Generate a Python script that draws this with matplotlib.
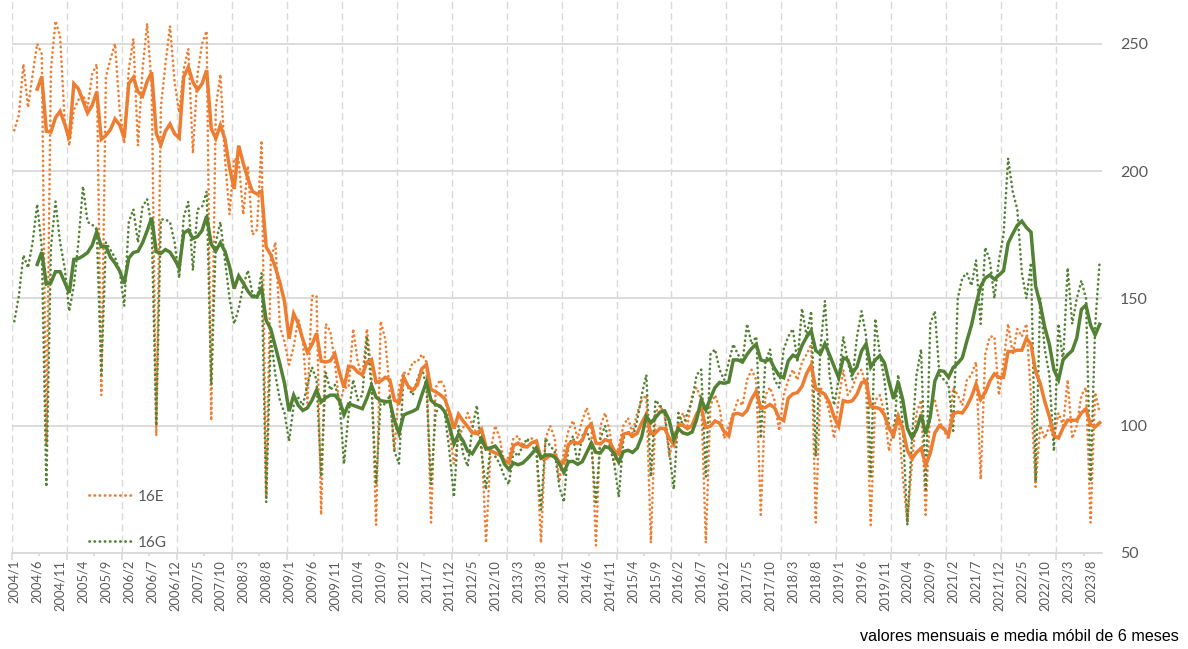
import numpy as np
import pandas as pd
import matplotlib
matplotlib.use("Agg")
import matplotlib.pyplot as plt
from matplotlib.lines import Line2D
from matplotlib.ticker import FixedLocator

# monthly values, 2004/1 .. 2023/10
start_year = 2004
e_16 = [
    216, 222, 242, 225, 238, 250, 246, 93, 240, 259, 253, 220,   # 2004
    210, 224, 228, 230, 225, 238, 242, 112, 237, 244, 250, 224,  # 2005
    211, 240, 252, 210, 240, 258, 233, 96, 225, 242, 257, 235,   # 2006
    223, 240, 248, 207, 238, 250, 255, 102, 225, 238, 205, 183,  # 2007
    205, 204, 183, 202, 175, 177, 212, 72, 165, 172, 139, 133,   # 2008
    124, 131, 142, 134, 109, 151, 151, 65, 140, 137, 125, 108,   # 2009
    115, 115, 138, 125, 119, 138, 121, 61, 141, 134, 113, 90,    # 2010
    115, 121, 120, 125, 125, 128, 125, 62, 115, 118, 115, 98,    # 2011
    85, 96, 99, 105, 100, 97, 95, 54, 90, 100, 95, 85,           # 2012
    88, 95, 96, 92, 94, 95, 92, 54, 95, 100, 95, 78,             # 2013
    90, 98, 102, 95, 102, 107, 100, 53, 100, 105, 98, 85,        # 2014
    92, 100, 103, 97, 105, 110, 112, 54, 105, 108, 104, 88,      # 2015
    96, 100, 105, 100, 112, 115, 110, 54, 108, 112, 107, 95,     # 2016
    100, 105, 110, 108, 118, 122, 118, 65, 112, 115, 110, 98,    # 2017
    112, 118, 122, 118, 125, 128, 132, 62, 115, 112, 105, 95,    # 2018
    110, 122, 112, 115, 120, 122, 115, 61, 110, 112, 105, 90,    # 2019
    100, 105, 80, 62, 85, 105, 110, 65, 108, 110, 102, 98,       # 2020
    95, 115, 112, 108, 118, 120, 125, 79, 128, 135, 135, 112,    # 2021
    125, 140, 128, 138, 135, 140, 111, 76, 100, 95, 100, 95,     # 2022
    105, 100, 118, 95, 100, 112, 115, 62, 113, 105,              # 2023
]
g_16 = [
    141, 151, 167, 162, 172, 187, 170, 76, 170, 188, 172, 162,   # 2004
    145, 155, 172, 194, 180, 179, 177, 120, 172, 169, 166, 161,  # 2005
    147, 180, 185, 172, 186, 189, 178, 100, 181, 181, 180, 172,  # 2006
    158, 182, 188, 161, 185, 186, 192, 116, 172, 180, 165, 150,  # 2007
    140, 146, 155, 161, 152, 150, 160, 70, 135, 120, 110, 105,   # 2008
    94, 108, 111, 108, 116, 123, 118, 80, 121, 114, 116, 110,    # 2009
    85, 105, 118, 110, 112, 135, 115, 77, 110, 108, 112, 90,     # 2010
    85, 120, 115, 112, 118, 123, 115, 77, 105, 108, 105, 90,     # 2011
    72, 100, 89, 84, 99, 108, 90, 75, 92, 88, 85, 80,            # 2012
    77, 90, 88, 92, 95, 92, 90, 67, 95, 92, 90, 76,              # 2013
    70, 92, 96, 85, 96, 98, 92, 70, 95, 100, 92, 85,             # 2014
    72, 95, 98, 95, 102, 112, 120, 80, 110, 108, 105, 90,        # 2015
    75, 105, 100, 105, 110, 120, 122, 80, 128, 130, 122, 118,    # 2016
    125, 132, 128, 125, 140, 132, 135, 95, 125, 130, 118, 115,   # 2017
    130, 135, 138, 125, 146, 135, 145, 88, 130, 149, 120, 108,   # 2018
    118, 135, 125, 118, 135, 145, 135, 80, 142, 128, 118, 100,   # 2019
    95, 120, 100, 61, 95, 120, 130, 75, 140, 145, 120, 118,      # 2020
    116, 98, 150, 158, 160, 155, 165, 140, 170, 165, 150, 165,   # 2021
    175, 205, 192, 185, 160, 150, 164, 78, 150, 130, 120, 90,    # 2022
    140, 125, 162, 140, 150, 157, 150, 78, 139, 165,             # 2023
]
y_ticks = [50, 100, 150, 200, 250]
caption = "valores mensuais e media móbil de 6 meses"

n = len(e_16)
x = np.arange(n)
month_labels = [f"{start_year + i // 12}/{i % 12 + 1}" for i in range(n)]

df = pd.DataFrame({"16E": e_16, "16G": g_16})
ma = df.rolling(6).mean()

ORANGE = "#ED7D31"
GREEN = "#548235"
GRID = "#D9D9D9"
TXT = "#595959"

fig = plt.figure(figsize=(11.88, 6.49), dpi=100)
ax = fig.add_axes([12 / 1188, 96 / 649, 1090 / 1188, 553 / 649])

dot = (0, (0.1, 1.75))
ax.plot(x, df["16E"], color=ORANGE, lw=1.9, ls=dot, dash_capstyle="round", label="16E")
ax.plot(x, df["16G"], color=GREEN, lw=1.9, ls=dot, dash_capstyle="round", label="16G")
ax.plot(x, ma["16E"], color=ORANGE, lw=2.5, solid_joinstyle="miter")
ax.plot(x, ma["16G"], color=GREEN, lw=2.5, solid_joinstyle="miter")

ax.set_xlim(-0.5, n - 0.5)
ax.set_ylim(50, 50 + 553 / 2.546)

# labels every 5 months, year boundaries as dashed grid
ax.xaxis.set_major_locator(FixedLocator(x[::5]))
ax.set_xticklabels(month_labels[::5], rotation=90, fontsize=9.3, color=TXT, family="Lato")
ax.tick_params(axis="x", which="major", length=0, pad=5)
ax.xaxis.set_minor_locator(FixedLocator(np.arange(-0.5, n, 12)))
ax.tick_params(axis="x", which="minor", length=5, color=GRID, width=1.2)
ax.grid(axis="x", which="minor", color=GRID, ls=(0, (5, 3)), lw=1.0)
half_years = np.arange(5.5, n, 12)
ax.vlines(half_years, 0, -0.006, transform=ax.get_xaxis_transform(), color=GRID, lw=1.2, clip_on=False)

ax.yaxis.tick_right()
ax.set_yticks(y_ticks)
ax.set_yticklabels([str(v) for v in y_ticks], fontsize=11.5, color=TXT, family="Lato")
ax.tick_params(axis="y", length=0, pad=13)
ax.grid(axis="y", color=GRID, lw=1.3)
ax.set_axisbelow(True)

for side in ["top", "left", "right"]:
    ax.spines[side].set_visible(False)
ax.spines["bottom"].set_color(GRID)
ax.spines["bottom"].set_linewidth(1.3)

handles = [
    Line2D([], [], color=ORANGE, lw=2.0, ls=dot, dash_capstyle="round"),
    Line2D([], [], color=GREEN, lw=2.0, ls=dot, dash_capstyle="round"),
]
leg = ax.legend(handles, ["16E", "16G"], loc="lower left", bbox_to_anchor=(0.071, 0.006),
                frameon=False, fontsize=11, handlelength=2.7, handletextpad=0.45,
                labelspacing=2.1, borderpad=0, borderaxespad=0)
for t in leg.get_texts():
    t.set_color(TXT)
    t.set_family("Lato")

fig.text(0.992, 0.02, caption, ha="right", va="center", fontsize=11.6,
         family="Liberation Sans", color="#000000")

fig.savefig("out.png", dpi=100)
